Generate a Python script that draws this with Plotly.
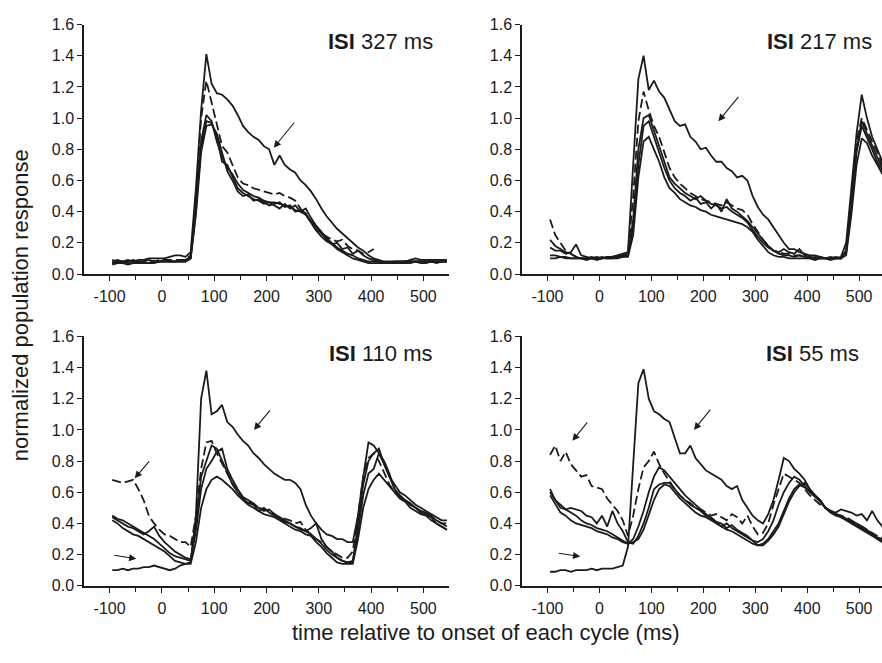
import plotly.graph_objects as go

# time grid (ms), shared by every trace
T = list(range(-95, 551, 10))

# ---------------- ISI 327 ms ----------------
p1_high = [0.08,0.09,0.08,0.09,0.08,0.09,0.09,0.10,0.10,0.10,
           0.10,0.11,0.12,0.12,0.11,0.14,0.55,1.05,1.41,1.22,
           1.16,1.15,1.12,1.08,1.02,0.95,0.91,0.88,0.86,0.82,
           0.80,0.70,0.76,0.70,0.67,0.65,0.60,0.57,0.53,0.48,
           0.42,0.37,0.33,0.29,0.26,0.23,0.20,0.17,0.15,0.12,
           0.10,0.09,0.08,0.08,0.08,0.08,0.08,0.09,0.10,0.09,
           0.09,0.09,0.09,0.09,0.09]
p1_dash = [0.07,0.08,0.07,0.08,0.08,0.07,0.08,0.08,0.08,0.09,
           0.09,0.09,0.09,0.09,0.09,0.12,0.50,1.00,1.24,1.10,
           0.95,0.82,0.78,0.70,0.62,0.58,0.57,0.55,0.54,0.53,
           0.52,0.51,0.52,0.50,0.49,0.47,0.42,0.38,0.33,0.28,
           0.26,0.24,0.22,0.21,0.22,0.18,0.16,0.15,0.13,0.14,
           0.16,None,None,None,None,None,None,None,None,None,
           None,None,None,None,None]
p1_b1 = [0.07,0.07,0.08,0.07,0.07,0.08,0.07,0.07,0.08,0.08,
         0.08,0.08,0.08,0.08,0.08,0.10,0.40,0.85,1.02,0.98,
         0.85,0.75,0.68,0.64,0.58,0.54,0.52,0.50,0.49,0.47,
         0.46,0.46,0.45,0.44,0.43,0.41,0.40,0.38,0.34,0.30,
         0.26,0.22,0.19,0.16,0.14,0.12,0.10,0.09,0.08,0.07,
         0.07,0.07,0.07,0.07,0.07,0.07,0.08,0.08,0.08,0.08,
         0.08,0.08,0.08,0.08,0.08]
p1_b2 = [0.09,0.08,0.08,0.08,0.09,0.08,0.08,0.09,0.08,0.08,
         0.09,0.08,0.08,0.09,0.09,0.11,0.45,0.82,0.98,0.97,
         0.88,0.72,0.70,0.62,0.55,0.52,0.50,0.48,0.47,0.45,
         0.46,0.44,0.42,0.45,0.42,0.44,0.40,0.42,0.36,0.31,
         0.27,0.23,0.20,0.17,0.15,0.13,0.12,0.10,0.09,0.08,
         0.08,0.08,0.07,0.07,0.08,0.08,0.08,0.08,0.08,0.08,
         0.08,0.08,0.08,0.08,0.08]
p1_b3 = [0.06,0.07,0.07,0.06,0.07,0.07,0.07,0.07,0.07,0.08,
         0.08,0.08,0.08,0.08,0.08,0.10,0.38,0.78,0.95,0.96,
         0.90,0.78,0.66,0.60,0.53,0.50,0.51,0.47,0.48,0.46,
         0.44,0.45,0.46,0.43,0.44,0.40,0.41,0.39,0.33,0.28,
         0.24,0.21,0.19,0.20,0.16,0.17,0.13,0.15,0.12,0.10,
         0.09,0.08,0.07,0.07,0.07,0.07,0.07,0.07,0.08,0.07,
         0.07,0.08,0.07,0.08,0.08]

# ---------------- ISI 217 ms ----------------
p2_high = [0.10,0.10,0.11,0.10,0.10,0.10,0.10,0.10,0.11,0.10,
           0.10,0.11,0.11,0.12,0.13,0.14,0.70,1.25,1.40,1.18,
           1.24,1.17,1.13,1.05,0.98,0.95,0.96,0.88,0.85,0.80,
           0.81,0.76,0.72,0.72,0.68,0.66,0.62,0.63,0.60,0.50,
           0.43,0.38,0.35,0.30,0.25,0.20,0.16,0.16,0.14,0.13,
           0.12,0.12,0.11,0.10,0.10,0.10,0.11,0.20,0.55,0.90,
           1.15,1.00,0.88,0.80,0.72]
p2_dash = [0.35,0.25,0.20,0.15,0.13,0.11,0.10,0.10,0.10,0.11,
           0.10,0.10,0.11,0.12,0.12,0.13,0.50,0.98,1.17,1.05,
           0.95,0.88,0.78,0.68,0.62,0.58,0.55,0.52,0.50,0.48,
           0.47,0.46,0.45,0.44,0.46,0.44,0.42,0.41,0.38,0.32,
           0.27,0.22,0.18,0.15,0.14,0.13,0.13,0.12,0.12,0.11,
           0.11,0.10,0.10,0.10,0.10,0.10,0.10,0.15,0.50,0.85,
           1.00,0.92,0.85,0.78,0.70]
p2_b1 = [0.22,0.18,0.16,0.14,0.13,0.11,0.10,0.10,0.10,0.10,
         0.10,0.11,0.10,0.11,0.11,0.12,0.35,0.80,1.00,1.02,
         0.92,0.82,0.72,0.62,0.58,0.55,0.52,0.50,0.48,0.50,
         0.47,0.45,0.44,0.42,0.43,0.40,0.38,0.36,0.33,0.28,
         0.24,0.20,0.17,0.15,0.13,0.12,0.12,0.11,0.12,0.11,
         0.10,0.11,0.10,0.10,0.11,0.10,0.10,0.15,0.45,0.80,
         0.98,0.90,0.82,0.75,0.68]
p2_b2 = [0.17,0.15,0.15,0.13,0.14,0.19,0.12,0.11,0.10,0.10,
         0.11,0.10,0.10,0.11,0.12,0.12,0.30,0.70,0.95,0.98,
         0.88,0.78,0.68,0.60,0.55,0.52,0.50,0.47,0.49,0.45,
         0.46,0.42,0.45,0.40,0.48,0.42,0.40,0.37,0.34,0.30,
         0.26,0.22,0.18,0.15,0.14,0.16,0.14,0.13,0.16,0.12,
         0.11,0.10,0.11,0.10,0.10,0.11,0.10,0.14,0.42,0.78,
         0.95,0.88,0.80,0.72,0.66]
p2_b3 = [0.12,0.12,0.11,0.11,0.10,0.10,0.10,0.09,0.10,0.09,
         0.10,0.10,0.10,0.10,0.11,0.11,0.25,0.62,0.85,0.88,
         0.80,0.72,0.62,0.55,0.52,0.48,0.46,0.44,0.43,0.41,
         0.40,0.38,0.37,0.36,0.35,0.34,0.33,0.32,0.30,0.27,
         0.22,0.18,0.14,0.12,0.11,0.11,0.10,0.10,0.10,0.10,
         0.10,0.09,0.10,0.10,0.09,0.10,0.10,0.12,0.38,0.70,
         0.87,0.84,0.76,0.70,0.64]

# ---------------- ISI 110 ms ----------------
p3_high = [0.10,0.10,0.11,0.10,0.11,0.11,0.12,0.12,0.13,0.12,
           0.11,0.10,0.11,0.13,0.14,0.15,0.45,1.20,1.38,1.10,
           1.12,1.16,1.05,1.02,0.97,0.93,0.90,0.85,0.82,0.78,
           0.75,0.72,0.70,0.68,0.68,0.66,0.62,0.52,0.45,0.40,
           0.36,0.33,0.32,0.30,0.30,0.28,0.28,0.45,0.70,0.92,
           0.90,0.85,0.78,0.70,0.65,0.60,0.58,0.55,0.52,0.50,
           0.48,0.46,0.44,0.42,0.42]
p3_dash = [0.68,0.67,0.66,0.67,0.68,0.62,0.55,0.45,0.40,0.36,
           0.33,0.32,0.30,0.28,0.28,0.25,0.45,0.75,0.92,0.93,
           0.85,0.78,0.72,0.66,0.60,0.56,0.54,0.52,0.50,0.49,
           0.48,0.46,0.44,0.43,0.42,0.40,0.41,0.36,0.33,0.30,
           0.28,0.25,0.22,0.20,0.18,0.18,0.22,0.45,0.70,0.82,
           0.85,0.80,0.72,0.65,0.60,0.58,0.55,0.52,0.50,0.48,
           0.46,0.44,0.42,0.40,0.40]
p3_b1 = [0.45,0.43,0.42,0.40,0.38,0.36,0.34,0.32,0.30,0.27,
         0.24,0.21,0.19,0.18,0.17,0.16,0.40,0.70,0.80,0.90,
         0.88,0.80,0.72,0.65,0.60,0.56,0.53,0.52,0.48,0.50,
         0.47,0.45,0.44,0.42,0.40,0.38,0.36,0.35,0.33,0.30,
         0.27,0.23,0.20,0.18,0.16,0.15,0.15,0.40,0.65,0.80,
         0.85,0.88,0.78,0.70,0.62,0.58,0.55,0.52,0.50,0.48,
         0.47,0.45,0.42,0.40,0.38]
p3_b2 = [0.44,0.42,0.40,0.38,0.37,0.35,0.33,0.35,0.38,0.32,
         0.28,0.25,0.22,0.20,0.18,0.17,0.35,0.62,0.75,0.80,
         0.86,0.88,0.75,0.68,0.62,0.57,0.55,0.53,0.50,0.48,
         0.49,0.46,0.43,0.41,0.40,0.38,0.37,0.35,0.37,0.40,
         0.30,0.25,0.22,0.18,0.16,0.15,0.16,0.35,0.58,0.72,
         0.75,0.85,0.80,0.72,0.62,0.57,0.55,0.53,0.50,0.47,
         0.46,0.44,0.40,0.38,0.36]
p3_b3 = [0.42,0.40,0.37,0.35,0.33,0.32,0.30,0.28,0.26,0.24,
         0.22,0.19,0.16,0.15,0.14,0.14,0.28,0.50,0.62,0.68,
         0.70,0.68,0.65,0.62,0.58,0.55,0.52,0.50,0.48,0.46,
         0.45,0.44,0.42,0.40,0.38,0.36,0.35,0.33,0.32,0.28,
         0.25,0.21,0.18,0.15,0.14,0.14,0.14,0.30,0.50,0.62,
         0.68,0.72,0.68,0.64,0.60,0.56,0.54,0.50,0.48,0.46,
         0.45,0.42,0.40,0.38,0.36]

# ---------------- ISI 55 ms ----------------
p4_high = [0.09,0.09,0.10,0.10,0.09,0.10,0.10,0.10,0.11,0.10,
           0.11,0.11,0.11,0.12,0.13,0.25,0.75,1.30,1.39,1.20,
           1.12,1.10,1.07,1.05,0.95,0.85,0.85,0.90,0.82,0.78,
           0.74,0.72,0.70,0.68,0.64,0.62,0.64,0.55,0.50,0.45,
           0.42,0.40,0.46,0.55,0.68,0.82,0.80,0.75,0.72,0.68,
           0.62,0.58,0.55,0.50,0.48,0.47,0.49,0.48,0.47,0.45,
           0.46,0.42,0.48,0.42,0.38]
p4_dash = [0.84,0.90,0.80,0.86,0.78,0.74,0.70,0.71,0.64,0.63,
           0.62,0.56,0.52,0.48,0.42,0.32,0.45,0.62,0.76,0.80,
           0.86,0.78,0.72,0.67,0.62,0.58,0.55,0.53,0.50,0.49,
           0.47,0.45,0.46,0.44,0.42,0.46,0.44,0.40,0.45,0.38,
           0.33,0.34,0.40,0.52,0.62,0.72,0.70,0.68,0.66,0.62,
           0.58,0.55,0.52,0.50,0.48,0.46,0.45,0.44,0.42,0.40,
           0.38,0.36,0.34,0.32,0.31]
p4_b1 = [0.60,0.55,0.52,0.49,0.47,0.45,0.42,0.40,0.39,0.37,
         0.36,0.35,0.33,0.31,0.29,0.27,0.30,0.38,0.48,0.60,
         0.70,0.76,0.74,0.70,0.66,0.62,0.58,0.55,0.52,0.49,
         0.46,0.43,0.41,0.38,0.40,0.37,0.35,0.33,0.31,0.29,
         0.28,0.30,0.35,0.42,0.52,0.60,0.66,0.70,0.68,0.64,
         0.60,0.57,0.54,0.50,0.48,0.46,0.45,0.43,0.41,0.39,
         0.37,0.35,0.33,0.31,0.30]
p4_b2 = [0.62,0.55,0.50,0.49,0.50,0.49,0.48,0.45,0.44,0.40,
         0.45,0.38,0.48,0.40,0.35,0.28,0.27,0.32,0.40,0.50,
         0.62,0.65,0.66,0.66,0.62,0.58,0.55,0.52,0.50,0.48,
         0.45,0.44,0.41,0.40,0.37,0.39,0.36,0.34,0.32,0.29,
         0.26,0.27,0.30,0.35,0.40,0.48,0.56,0.62,0.65,0.63,
         0.61,0.58,0.55,0.50,0.47,0.46,0.44,0.43,0.41,0.40,
         0.38,0.36,0.33,0.30,0.28]
p4_b3 = [0.58,0.52,0.47,0.45,0.42,0.40,0.39,0.38,0.37,0.35,
         0.34,0.33,0.31,0.30,0.28,0.27,0.28,0.30,0.36,0.45,
         0.55,0.62,0.65,0.64,0.60,0.56,0.53,0.50,0.47,0.45,
         0.44,0.42,0.40,0.38,0.36,0.35,0.33,0.31,0.29,0.27,
         0.26,0.26,0.29,0.33,0.38,0.46,0.54,0.60,0.64,0.66,
         0.62,0.58,0.54,0.50,0.47,0.45,0.44,0.42,0.40,0.38,
         0.36,0.34,0.32,0.30,0.29]

panel_titles = ["327", "217", "110", "55"]
x_ticks = [-100, 0, 100, 200, 300, 400, 500]
x_ticklabels = ["-100", "0", "100", "200", "300", "400", "500"]
y_ticks = [0.0, 0.2, 0.4, 0.6, 0.8, 1.0, 1.2, 1.4, 1.6]

panels = [
    [p1_high, p1_dash, p1_b1, p1_b2, p1_b3],
    [p2_high, p2_dash, p2_b1, p2_b2, p2_b3],
    [p3_high, p3_dash, p3_b1, p3_b2, p3_b3],
    [p4_high, p4_dash, p4_b1, p4_b2, p4_b3],
]

W, H = 882, 663
xdom = [[84 / W, 449 / W], [522 / W, 1.0]]
xrng = [[-149, 549], [-149, 544]]
ydom = [[1 - 273 / H, 1 - 17 / H], [1 - 593 / H, 1 - 337 / H]]

FONT = "Liberation Sans, Arial, sans-serif"
INK = "#1b1b1b"

fig = go.Figure()
layout = dict(
    width=W, height=H, margin=dict(l=0, r=0, t=0, b=0),
    paper_bgcolor="white", plot_bgcolor="white", showlegend=False,
    font=dict(family=FONT, color=INK, size=16),
)

for k, series in enumerate(panels):
    r, c = divmod(k, 2)
    xa = "x" if k == 0 else f"x{k+1}"
    ya = "y" if k == 0 else f"y{k+1}"
    for j, ys in enumerate(series):
        fig.add_trace(go.Scatter(
            x=T, y=ys, mode="lines", xaxis=xa, yaxis=ya,
            line=dict(color=INK, width=1.8, dash="9px,4px" if j == 1 else "solid"),
            connectgaps=False, hoverinfo="skip",
        ))
    layout["xaxis" if k == 0 else f"xaxis{k+1}"] = dict(
        domain=xdom[c], anchor=ya, range=xrng[c],
        tickvals=x_ticks, ticktext=x_ticklabels,
        ticks="outside", ticklen=5, tickwidth=1.2, tickcolor=INK,
        minor=dict(dtick=50, tick0=-50, ticks="outside", ticklen=4, tickwidth=1.2, tickcolor=INK),
        showline=True, linecolor=INK, linewidth=1.5, showgrid=False, zeroline=False,
        tickfont=dict(size=16), ticklabelstandoff=2,
    )
    layout["yaxis" if k == 0 else f"yaxis{k+1}"] = dict(
        domain=ydom[r], anchor=xa, range=[0, 1.6],
        tickvals=y_ticks, tickformat=".1f", ticks="outside", ticklen=5, tickwidth=1.2,
        tickcolor=INK, showline=True, linecolor=INK, linewidth=1.5,
        showgrid=False, zeroline=False, tickfont=dict(size=16),
    )

fig.update_layout(**layout)

ann = []
title_right = [522, 528, 522, 503]
for k, t in enumerate(panel_titles):
    xa = "x" if k == 0 else f"x{k+1}"
    ya = "y" if k == 0 else f"y{k+1}"
    ann.append(dict(x=title_right[k], y=1.49, xref=xa, yref=ya, text=f"<b>ISI</b> {t} ms",
                    showarrow=False, xanchor="right", yanchor="middle",
                    font=dict(size=22, family=FONT, color=INK)))

# arrows: (panel, tail_x, tail_y, tip_x, tip_y)
arrows = [
    (0, 255, 0.98, 214, 0.81),
    (1, 270, 1.146, 229, 0.979),
    (2, 209, 1.135, 176, 1.00),
    (2, -22, 0.808, -52, 0.69),
    (2, -94, 0.198, -49, 0.173),
    (3, 216, 1.14, 182, 1.00),
    (3, -21, 1.058, -52, 0.93),
    (3, -81, 0.21, -37, 0.188),
]
for k, tx, ty, hx, hy in arrows:
    xa = "x" if k == 0 else f"x{k+1}"
    ya = "y" if k == 0 else f"y{k+1}"
    ann.append(dict(x=hx, y=hy, ax=tx, ay=ty, xref=xa, yref=ya, axref=xa, ayref=ya,
                    text="", showarrow=True, arrowhead=2, arrowsize=1.3,
                    arrowwidth=1.1, arrowcolor=INK))

ann.append(dict(x=20 / W, y=1 - 305 / H, xref="paper", yref="paper",
                text="normalized population response", textangle=-90, showarrow=False,
                font=dict(size=22, family=FONT, color=INK), xanchor="center", yanchor="middle"))
ann.append(dict(x=486 / W, y=1 - 641 / H, xref="paper", yref="paper",
                text="time relative to onset of each cycle (ms)", showarrow=False,
                font=dict(size=22, family=FONT, color=INK), xanchor="center", yanchor="middle"))

fig.update_layout(annotations=ann)
fig.write_html("out.html", config={"displayModeBar": False},
               post_script="document.body.style.margin='0';document.body.style.overflow='hidden';")
